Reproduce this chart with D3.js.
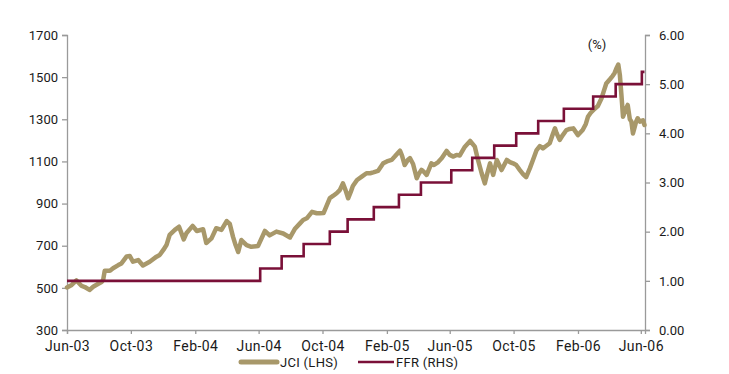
<!DOCTYPE html>
<html>
<head>
<meta charset="utf-8">
<script src="https://cdn.jsdelivr.net/npm/d3@7"></script>
<style>
  html, body { margin: 0; padding: 0; background: #fff; }
  svg text { font-family: Roboto, "Noto Sans", sans-serif; fill: #1a1a1a; }
</style>
</head>
<body>
<svg id="chart" width="729" height="374"></svg>
<script>
// ---------------- DATA ----------------
const jciDates = ["2003-06-27","2003-07-06","2003-07-15","2003-07-25","2003-07-31","2003-08-09","2003-08-16","2003-08-25","2003-09-01","2003-09-04",
"2003-09-07","2003-09-17","2003-09-23","2003-10-03","2003-10-09","2003-10-19","2003-10-25","2003-10-31","2003-11-10","2003-11-19",
"2003-12-02","2003-12-15","2003-12-21","2003-12-28","2004-01-03","2004-01-09","2004-01-19","2004-01-27","2004-02-05","2004-02-10",
"2004-02-22","2004-03-01","2004-03-13","2004-03-19","2004-03-22","2004-03-29","2004-04-07","2004-04-17","2004-04-27","2004-05-03",
"2004-05-09","2004-05-14","2004-05-19","2004-05-25","2004-06-04","2004-06-13","2004-06-26","2004-07-09","2004-07-18","2004-07-31",
"2004-08-13","2004-08-26","2004-09-04","2004-09-14","2004-09-20","2004-09-27","2004-10-07","2004-10-16","2004-10-22","2004-10-29",
"2004-11-03","2004-11-10","2004-11-16","2004-11-23","2004-11-29","2004-12-05","2004-12-10","2004-12-15","2004-12-20","2004-12-24",
"2005-01-01","2005-01-10","2005-01-19","2005-01-26","2005-02-01","2005-02-10","2005-02-20","2005-02-27","2005-03-08","2005-03-14",
"2005-03-20","2005-03-24","2005-03-28","2005-04-02","2005-04-08","2005-04-12","2005-04-18","2005-04-25","2005-04-29","2005-05-04",
"2005-05-09","2005-05-14","2005-05-23","2005-05-28","2005-06-05","2005-06-12","2005-06-21","2005-06-27","2005-07-04","2005-07-10",
"2005-07-16","2005-07-26","2005-08-05","2005-08-14","2005-08-20","2005-08-27","2005-09-02","2005-09-06","2005-09-12","2005-09-18",
"2005-09-25","2005-10-04","2005-10-14","2005-10-20","2005-10-26","2005-11-01","2005-11-08","2005-11-14","2005-11-20","2005-11-27",
"2005-12-03","2005-12-10","2005-12-16","2005-12-22","2005-12-28","2006-01-04","2006-01-10","2006-01-14","2006-01-17","2006-01-23",
"2006-01-29","2006-02-05","2006-02-11","2006-02-18","2006-02-27","2006-03-08","2006-03-14","2006-03-18","2006-03-23","2006-03-31",
"2006-04-06","2006-04-13","2006-04-17","2006-04-22","2006-04-29","2006-05-04","2006-05-08","2006-05-12","2006-05-15","2006-05-18",
"2006-05-21","2006-05-24","2006-05-30","2006-06-02","2006-06-06","2006-06-09","2006-06-12","2006-06-15","2006-06-18","2006-06-21",
"2006-06-25","2006-07-01","2006-07-04"];
const jciValues = [502,514,535,509,504,490,505,518,528,537,
581,581,593,608,616,649,651,624,632,606,
624,648,656,680,703,751,775,790,730,759,
794,770,778,713,719,735,783,775,817,803,
743,703,670,727,703,695,699,770,749,767,
758,739,779,806,822,830,861,854,854,855,
884,926,936,949,964,996,964,925,955,983,
1012,1028,1044,1044,1048,1055,1091,1100,1107,1123,
1140,1151,1126,1083,1107,1116,1088,1020,1041,1060,
1050,1036,1091,1083,1097,1116,1150,1131,1123,1131,
1128,1170,1197,1170,1107,1044,996,1036,1091,1036,
1107,1059,1107,1097,1091,1083,1059,1040,1025,1067,
1107,1154,1173,1162,1173,1186,1230,1257,1235,1202,
1225,1249,1254,1257,1225,1249,1278,1312,1330,1350,
1363,1400,1431,1470,1490,1505,1520,1545,1560,1510,
1415,1312,1352,1368,1300,1289,1233,1260,1289,1305,
1289,1295,1273];

const ffrDates = ["2003-06-27","2004-06-30","2004-08-10","2004-09-21","2004-11-10","2004-12-14","2005-02-02","2005-03-22","2005-05-03",
"2005-06-30","2005-08-09","2005-09-20","2005-11-01","2005-12-13","2006-01-31","2006-03-28","2006-05-10","2006-06-29","2006-07-04"];
const ffrValues = [1.00,1.25,1.50,1.75,2.00,2.25,2.50,2.75,3.00,3.25,3.50,3.75,4.00,4.25,4.50,4.75,5.00,5.25,5.25];

const xTickDates  = ["2003-06-27","2003-10-27","2004-02-27","2004-06-27","2004-10-27","2005-02-27","2005-06-27","2005-10-27","2006-02-27","2006-06-27"];
const xTickLabels = ["Jun-03","Oct-03","Feb-04","Jun-04","Oct-04","Feb-05","Jun-05","Oct-05","Feb-06","Jun-06"];
const leftTicks  = [300,500,700,900,1100,1300,1500,1700];
const rightTicks = [0,1,2,3,4,5,6];
const seriesNames = ["JCI (LHS)","FFR (RHS)"];
const rightUnit = "(%)";

// ---------------- CHART ----------------
(function () {
const parse = d3.timeParse("%Y-%m-%d");
const svg = d3.select("#chart");
const mLeft = 67, mRight = 645, mTop = 35, mBottom = 330;
const axisColor = "#9a9a9a";
const jciColor = "#A8986A", ffrColor = "#7A1038";

const x = d3.scaleTime()
  .domain([parse("2003-06-27"), parse("2006-07-05")])
  .range([mLeft, mRight]);
const yL = d3.scaleLinear().domain([300, 1700]).range([mBottom, mTop]);
const yR = d3.scaleLinear().domain([0, 6]).range([mBottom, mTop]);

// axes
const gL = svg.append("g").attr("transform", `translate(${mLeft},0)`)
  .call(d3.axisLeft(yL).tickValues(leftTicks).tickSize(5).tickPadding(4).tickFormat(d3.format("d")));
const gR = svg.append("g").attr("transform", `translate(${mRight},0)`)
  .call(d3.axisRight(yR).tickValues(rightTicks).tickSize(5).tickPadding(9).tickFormat(d3.format(".2f")));
const gX = svg.append("g").attr("transform", `translate(0,${mBottom})`)
  .call(d3.axisBottom(x).tickValues(xTickDates.map(parse)).tickSize(4).tickPadding(7)
    .tickFormat((d, i) => xTickLabels[i]));

[gL, gR, gX].forEach(g => {
  g.selectAll("path.domain").attr("stroke", axisColor).attr("stroke-width", 1.3);
  g.selectAll(".tick line").attr("stroke", axisColor).attr("stroke-width", 1.3);
  g.selectAll("text").style("font-family", "Roboto, sans-serif").attr("fill", "#1a1a1a");
});
gL.selectAll("text").style("font-size", "13px");
gR.selectAll("text").style("font-size", "13px");
gX.selectAll("text").style("font-size", "14px").style("letter-spacing", "0.4px");

// unit label
svg.append("text").attr("x", 597).attr("y", 49).attr("text-anchor", "middle")
  .style("font-size", "13px").text(rightUnit);

// JCI line
const jci = jciDates.map((d, i) => ({ date: parse(d), v: jciValues[i] }));
svg.append("path").datum(jci)
  .attr("fill", "none").attr("stroke", jciColor).attr("stroke-width", 4.5)
  .attr("stroke-linejoin", "round").attr("stroke-linecap", "round")
  .attr("d", d3.line().x(d => x(d.date)).y(d => yL(d.v)));

// FFR step line
const ffr = ffrDates.map((d, i) => ({ date: parse(d), v: ffrValues[i] }));
svg.append("path").datum(ffr)
  .attr("fill", "none").attr("stroke", ffrColor).attr("stroke-width", 2.6)
  .attr("d", d3.line().curve(d3.curveStepAfter).x(d => x(d.date)).y(d => yR(d.v)));

// legend
const lg = svg.append("g");
lg.append("line").attr("x1", 241).attr("x2", 277).attr("y1", 362).attr("y2", 362)
  .attr("stroke", jciColor).attr("stroke-width", 5).attr("stroke-linecap", "round");
lg.append("text").attr("x", 280).attr("y", 367).style("font-size", "13px").style("letter-spacing", "0.3px").text(seriesNames[0]);
lg.append("line").attr("x1", 358).attr("x2", 394).attr("y1", 362).attr("y2", 362)
  .attr("stroke", ffrColor).attr("stroke-width", 2.6);
lg.append("text").attr("x", 396).attr("y", 367).style("font-size", "13px").style("letter-spacing", "0.3px").text(seriesNames[1]);
})();
</script>
</body>
</html>
